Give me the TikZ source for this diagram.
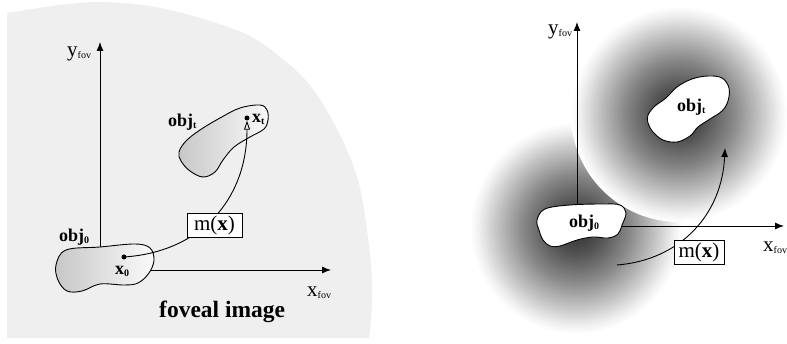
\documentclass[tikz,border=0pt]{standalone}
\usepackage{fontspec}
\setmainfont{Liberation Serif}
\usetikzlibrary{arrows.meta}
\definecolor{bggray}{HTML}{EFEFEF}
\pgfdeclareradialshading{glow}{\pgfpoint{0bp}{0bp}}{color(0bp)=(black!82); color(6bp)=(black!68); color(12.5bp)=(black!47); color(18.5bp)=(black!24); color(23bp)=(black!6); color(25bp)=(white); color(50bp)=(white)}
\newcommand\lsub[2][10]{\raisebox{-2pt}{\fontsize{#1}{#1}\selectfont #2}}
\begin{document}
\begin{tikzpicture}[x=1pt,y=-1pt,
  lab/.style={inner sep=0pt, anchor=base west, font=\fontsize{21}{21}\selectfont},
  objlab/.style={inner sep=0pt, anchor=base west, font=\bfseries\fontsize{18}{18}\selectfont},
  axis/.style={line width=0.9pt, -{Latex[length=9pt,width=7pt]}},
  blobl/.style={draw, line width=0.9pt, left color=black!22, right color=black!2},
  blobr/.style={draw, line width=0.9pt, fill=white},
  dotmark/.style={circle, fill=black, inner sep=0pt, minimum size=5pt},
  mbox/.style={draw, fill=white, line width=0.8pt, inner sep=0pt, minimum width=#1, minimum height=24pt, font=\fontsize{21}{21}\selectfont},
  curve/.style={line width=0.9pt}]
\useasboundingbox (0,0) rectangle (787,344);
% ---------- left panel ----------
\fill[bggray] plot[smooth, tension=0.55] coordinates {(7,13) (60,5) (100,2) (150,6) (200,18) (250,36) (290,65) (315,92) (340,135) (358,180) (367,230) (372,280) (371,320) (369,338)} -- (7,338) -- cycle;
\coordinate (lyb) at (100,252);
\coordinate (lyt) at (100,42);
\coordinate (lxb) at (148,270);
\coordinate (lxt) at (331,270);
\draw[axis] (lyb) -- (lyt);
\draw[axis] (lxb) -- (lxt);
\draw[blobl] plot[smooth cycle, tension=0.6] coordinates {(56,265) (66,250) (100,247) (135,244) (150,248) (154,260) (149,273) (138,283) (124,285) (100,284) (82,291) (67,291) (58,280)};
\draw[blobl] plot[smooth cycle, tension=0.6] coordinates {(179,152) (186,141) (200,130) (220,118) (240,108) (260,105) (267,110) (268,120) (264,129) (250,137) (234,147) (223,160) (215,172) (203,177) (190,171) (181,161)};
\node[dotmark] (x0) at (124,257) {};
\node[dotmark] (xt) at (247,118) {};
\draw[curve, -{Triangle[open,length=9pt,width=6pt]}] (x0.center) .. controls (200,252) and (247,200) .. (xt.south);
\node[mbox=55pt] (mxl) at (214.5,225.5) {m(\textbf{x})};
\node[lab] (lyfov) at (67,57) {y\lsub{fov}};
\node[lab] (lxfov) at (307,297) {x\lsub{fov}};
\node[objlab] (lobj0) at (59,242) {obj\lsub[10]{0}};
\node[objlab] (lobjt) at (168,127) {obj\lsub[10]{t}};
\node[objlab] (lx0) at (115,275) {x\lsub[10]{0}};
\node[objlab] (lxt) at (252,123) {x\lsub[10]{t}};
\node[inner sep=0pt, anchor=base west, font=\bfseries\fontsize{23.5}{23.5}\selectfont] (fov) at (159,318) {foveal image};
% ---------- right panel ----------
\shade[shading=glow] (576,228) circle[radius=106pt];
\shade[shading=glow] (679,114) circle[radius=108pt];
\coordinate (ryb) at (577,208);
\coordinate (ryt) at (577,22);
\coordinate (rxb) at (620,226);
\coordinate (rxt) at (784,226);
\draw[axis] (ryb) -- (ryt);
\draw[axis] (rxb) -- (rxt);
\draw[blobr] plot[smooth cycle, tension=0.6] coordinates {(537,220) (545,209) (570,205) (603,204) (620,205) (626,213) (622,225) (618,234) (608,238) (593,237) (577,240) (560,246) (550,246) (543,240) (539,230)};
\draw[blobr] plot[smooth cycle, tension=0.6] coordinates {(648,115) (655,106) (666,98) (677,87) (692,79) (708,76) (722,78) (729,88) (728,101) (722,111) (710,119) (698,127) (690,136) (677,142) (663,140) (653,132) (648,123)};
\coordinate (cs) at (617,265);
\coordinate (ce) at (725,148);
\draw[curve, -{Latex[length=9pt,width=7pt]}] (cs) .. controls (680,260) and (722,215) .. (ce);
\node[mbox=50pt] (mxr) at (699,252) {m(\textbf{x})};
\node[lab] (ryfov) at (548,35) {y\lsub{fov}};
\node[lab] (rxfov) at (763,252) {x\lsub{fov}};
\node[objlab] (robj0) at (569,228) {obj\lsub[10]{0}};
\node[objlab] (robjt) at (677,112) {obj\lsub[10]{t}};
\end{tikzpicture}
\end{document}
